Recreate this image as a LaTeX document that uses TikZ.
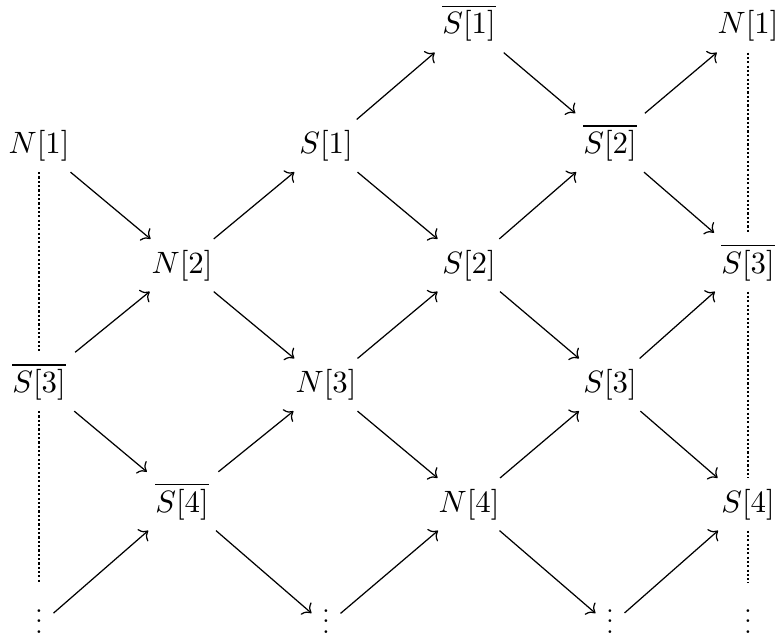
\documentclass[tikz,border=0pt]{standalone}
\usepackage{amsmath,amsfonts,amssymb}
\usepackage{tikz}
\usetikzlibrary{arrows.meta}

\begin{document}
\begin{tikzpicture}[x=0.324pt, y=-0.324pt]
		\tikzstyle{state}=[anchor=base, inner sep=3.33pt]
		\tikzstyle{gap}=[anchor=base, inner sep=3.33pt, text depth=8.1pt]
		\tikzstyle{flow}=[-{Computer Modern Rightarrow}, line width=0.4pt]
		\tikzstyle{chain}=[line width=0.75pt, dash pattern=on 0.7pt off 0.7pt]
		
		\useasboundingbox (0,0) rectangle (780,637);
		
		\node (sb1) at (469,34) [state] {$\overline{S[1]}$};
		\node (n1r) at (748,34) [state] {$N[1]$};
		
		\node (n1) at (39,153.5) [state] {$N[1]$};
		\node (s1) at (326,153.5) [state] {$S[1]$};
		\node (sb2) at (610,153.5) [state] {$\overline{S[2]}$};
		
		\node (n2) at (182,273) [state] {$N[2]$};
		\node (s2) at (469,273) [state] {$S[2]$};
		\node (sb3r) at (748,273) [state] {$\overline{S[3]}$};
		
		\node (sb3l) at (39,392.5) [state] {$\overline{S[3]}$};
		\node (n3) at (326,392.5) [state] {$N[3]$};
		\node (s3) at (610,392.5) [state] {$S[3]$};
		
		\node (sb4) at (182,512) [state] {$\overline{S[4]}$};
		\node (n4) at (469,512) [state] {$N[4]$};
		\node (s4) at (748,512) [state] {$S[4]$};
		
		\node (d0) at (39,633) [gap] {\scalebox{0.85}{$\vdots$}};
		\node (d2) at (326,633) [gap] {\scalebox{0.85}{$\vdots$}};
		\node (d4) at (610,633) [gap] {\scalebox{0.85}{$\vdots$}};
		\node (d5) at (748,633) [gap] {\scalebox{0.85}{$\vdots$}};
		
		\draw [flow] (n1) -- (n2);
		\draw [flow] (n2) -- (s1);
		\draw [flow] (s1) -- (sb1);
		\draw [flow] (sb1) -- (sb2);
		\draw [flow] (sb2) -- (n1r);
		\draw [flow] (sb2) -- (sb3r);
		\draw [flow] (s1) -- (s2);
		\draw [flow] (s2) -- (sb2);
		\draw [flow] (s2) -- (s3);
		\draw [flow] (s3) -- (sb3r);
		\draw [flow] (s3) -- (s4);
		\draw [flow] (n2) -- (n3);
		\draw [flow] (sb3l) -- (n2);
		\draw [flow] (sb3l) -- (sb4);
		\draw [flow] (sb4) -- (n3);
		\draw [flow] (n3) -- (s2);
		\draw [flow] (n3) -- (n4);
		\draw [flow] (n4) -- (s3);
		\draw [flow] (d0) -- (sb4);
		\draw [flow] (sb4) -- (d2);
		\draw [flow] (d2) -- (n4);
		\draw [flow] (n4) -- (d4);
		\draw [flow] (d4) -- (s4);
		
		\draw [chain] (n1) -- (sb3l);
		\draw [chain] (sb3l) -- (d0);
		\draw [chain] (n1r) -- (sb3r);
		\draw [chain] (sb3r) -- (s4);
		\draw [chain] (s4) -- (d5);
\end{tikzpicture}
\end{document}
